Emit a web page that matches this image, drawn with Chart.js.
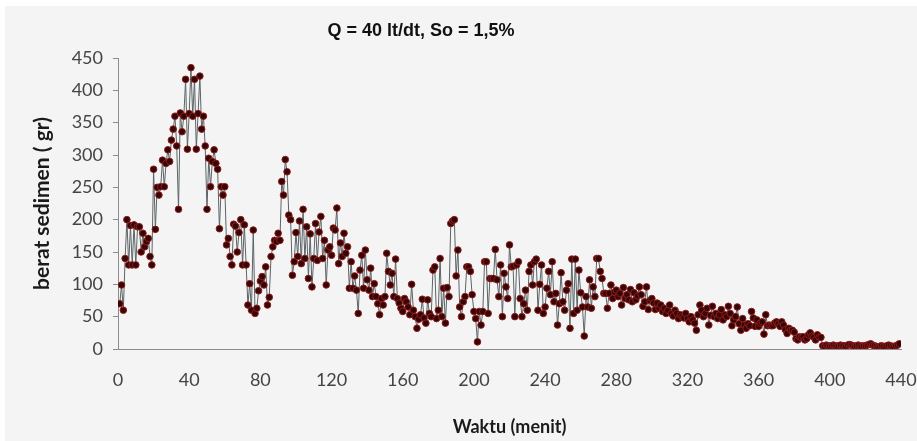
<!DOCTYPE html>
<html>
<head>
<meta charset="utf-8">
<script src="https://cdn.jsdelivr.net/npm/chart.js@4"></script>
<style>
  html, body { margin: 0; padding: 0; background: #ffffff; }
  #wrap { position: relative; width: 917px; height: 441px; overflow: hidden; }
  #panel { position: absolute; left: 5px; top: 6px; right: 0; bottom: 0; background: #f4f4f4; }
  #sedimenChart { position: absolute; left: 0; top: 0; }
</style>
</head>
<body>
<div id="wrap">
  <div id="panel"></div>
  <canvas id="sedimenChart" width="917" height="441"></canvas>
</div>
<script>
// berat sedimen (gr) tiap menit, dipecah per rentang waktu
const berat001_086 = [
  70, 99, 60, 140, 200, 130, 191, 130, 192, 130,
  189, 189, 150, 179, 158, 166, 171, 143, 130, 278,
  185, 250, 238, 251, 292, 251, 287, 308, 290, 323,
  340, 360, 314, 216, 365, 336, 360, 417, 309, 364,
  435, 360, 417, 309, 364, 422, 340, 360, 314, 216,
  295, 251, 290, 308, 287, 278, 186, 251, 238, 251,
  161, 171, 143, 130, 193, 190, 150, 180, 200, 130,
  192, 130, 68, 101, 60, 184, 55, 63, 90, 105,
  112, 99, 127, 68, 80, 143
];
const berat087_173 = [
  158, 168, 166, 179, 168, 259, 238, 293, 274, 207,
  200, 114, 135, 180, 143, 198, 132, 216, 140, 189,
  109, 178, 96, 140, 194, 137, 181, 205, 140, 168,
  99, 153, 158, 145, 187, 184, 218, 132, 164, 143,
  179, 148, 158, 94, 135, 94, 113, 91, 55, 122,
  145, 94, 153, 107, 91, 125, 81, 101, 81, 70,
  53, 78, 68, 81, 148, 120, 99, 117, 81, 139,
  78, 71, 63, 58, 78, 73, 65, 53, 100, 60,
  50, 32, 46, 53, 77, 48, 40
];
const berat174_260 = [
  76, 55, 50, 122, 127, 47, 60, 140, 50, 94,
  40, 95, 81, 194, 198, 200, 113, 153, 65, 50,
  73, 81, 127, 127, 120, 84, 58, 47, 11, 58,
  37, 58, 135, 135, 55, 109, 109, 109, 154, 107,
  81, 130, 50, 117, 96, 78, 161, 127, 128, 50,
  130, 135, 78, 50, 70, 91, 60, 120, 130, 99,
  135, 139, 60, 100, 130, 55, 65, 94, 120, 84,
  135, 73, 86, 37, 70, 118, 73, 60, 91, 101,
  32, 139, 55, 139, 60, 122, 87
];
const berat261_348 = [
  65, 20, 81, 65, 107, 63, 96, 81, 140, 140,
  120, 109, 86, 86, 63, 86, 99, 78, 88, 91,
  81, 86, 68, 95, 78, 84, 76, 92, 73, 87,
  76, 82, 96, 84, 66, 73, 96, 61, 75, 78,
  71, 61, 71, 63, 68, 58, 63, 55, 60, 68,
  55, 51, 60, 55, 47, 53, 50, 48, 55, 47,
  42, 50, 45, 40, 29, 53, 68, 60, 50, 55,
  63, 37, 52, 66, 50, 55, 47, 53, 61, 45,
  53, 50, 66, 55, 36, 45, 50, 65
];
const berat349_395 = [
  39, 29, 47, 37, 32, 39, 36, 58, 48, 35,
  45, 35, 40, 42, 23, 53, 36, 37, 36, 36,
  40, 42, 39, 35, 42, 37, 30, 24, 32, 29,
  29, 26, 16, 14, 19, 18, 19, 14, 16, 22,
  25, 20, 18, 14, 22, 18, 18
];
const berat396_439 = [
  5, 4, 6, 5, 4, 5, 6, 5, 4, 5,
  6, 5, 5, 4, 6, 7, 6, 5, 4, 5,
  6, 5, 4, 5, 5, 6, 7, 8, 6, 5,
  4, 3, 4, 5, 4, 3, 5, 6, 5, 4,
  3, 5, 6, 8
];

const judul = 'Q = 40 lt/dt, So = 1,5%';
const labelX = 'Waktu (menit)';
const labelY = 'berat sedimen ( gr)';

const berat = [].concat(berat001_086, berat087_173, berat174_260,
  berat261_348, berat349_395, berat396_439);
const titik = berat.map((v, i) => ({ x: i + 1, y: v }));

const tickFont = { family: 'Lato', size: 18 };

// judul grafik digambar sendiri supaya posisinya bisa diatur bebas
const judulPlugin = {
  id: 'judul',
  afterDraw(chart) {
    const ctx = chart.ctx;
    ctx.save();
    ctx.font = 'bold 18px "Liberation Sans", Arial, sans-serif';
    ctx.fillStyle = '#111111';
    ctx.textAlign = 'center';
    ctx.textBaseline = 'middle';
    ctx.fillText(judul, 421, 31);
    ctx.restore();
  }
};

new Chart(document.getElementById('sedimenChart'), {
  type: 'line',
  data: {
    datasets: [{
      data: titik,
      borderColor: '#5b6366',
      borderWidth: 1,
      pointRadius: 3.3,
      pointBackgroundColor: '#360606',
      pointBorderColor: '#8e1b1b',
      pointBorderWidth: 1,
      tension: 0
    }]
  },
  options: {
    responsive: false,
    animation: false,
    layout: { padding: { top: 58, right: 16, left: 0, bottom: 0 } },
    plugins: {
      legend: { display: false },
      tooltip: { enabled: false }
    },
    scales: {
      x: {
        type: 'linear',
        min: 0,
        max: 440,
        afterFit(scale) {
          scale.height = 92;
          scale.paddingLeft = 0;
          scale.paddingRight = 0;
        },
        ticks: { stepSize: 40, color: '#444444', font: tickFont, padding: 20, maxRotation: 0 },
        grid: { drawOnChartArea: false, drawTicks: false },
        border: { color: '#8c8c8c', width: 1 },
        title: {
          display: true, text: labelX, color: '#1a1a1a',
          font: { family: 'Lato', size: 18, weight: 'bold' },
          padding: { top: 0, bottom: 3 }
        }
      },
      y: {
        min: 0,
        max: 450,
        afterFit(scale) { scale.width = 118; },
        ticks: { stepSize: 50, color: '#444444', font: tickFont, padding: 10 },
        grid: { drawOnChartArea: false, drawTicks: true, tickLength: 5, tickColor: '#8c8c8c' },
        border: { color: '#8c8c8c', width: 1 },
        title: {
          display: true, text: labelY, color: '#1a1a1a',
          font: { family: 'Lato', size: 21, weight: 'bold' },
          padding: { top: 30, bottom: 0 }
        }
      }
    }
  },
  plugins: [judulPlugin]
});
</script>
</body>
</html>
